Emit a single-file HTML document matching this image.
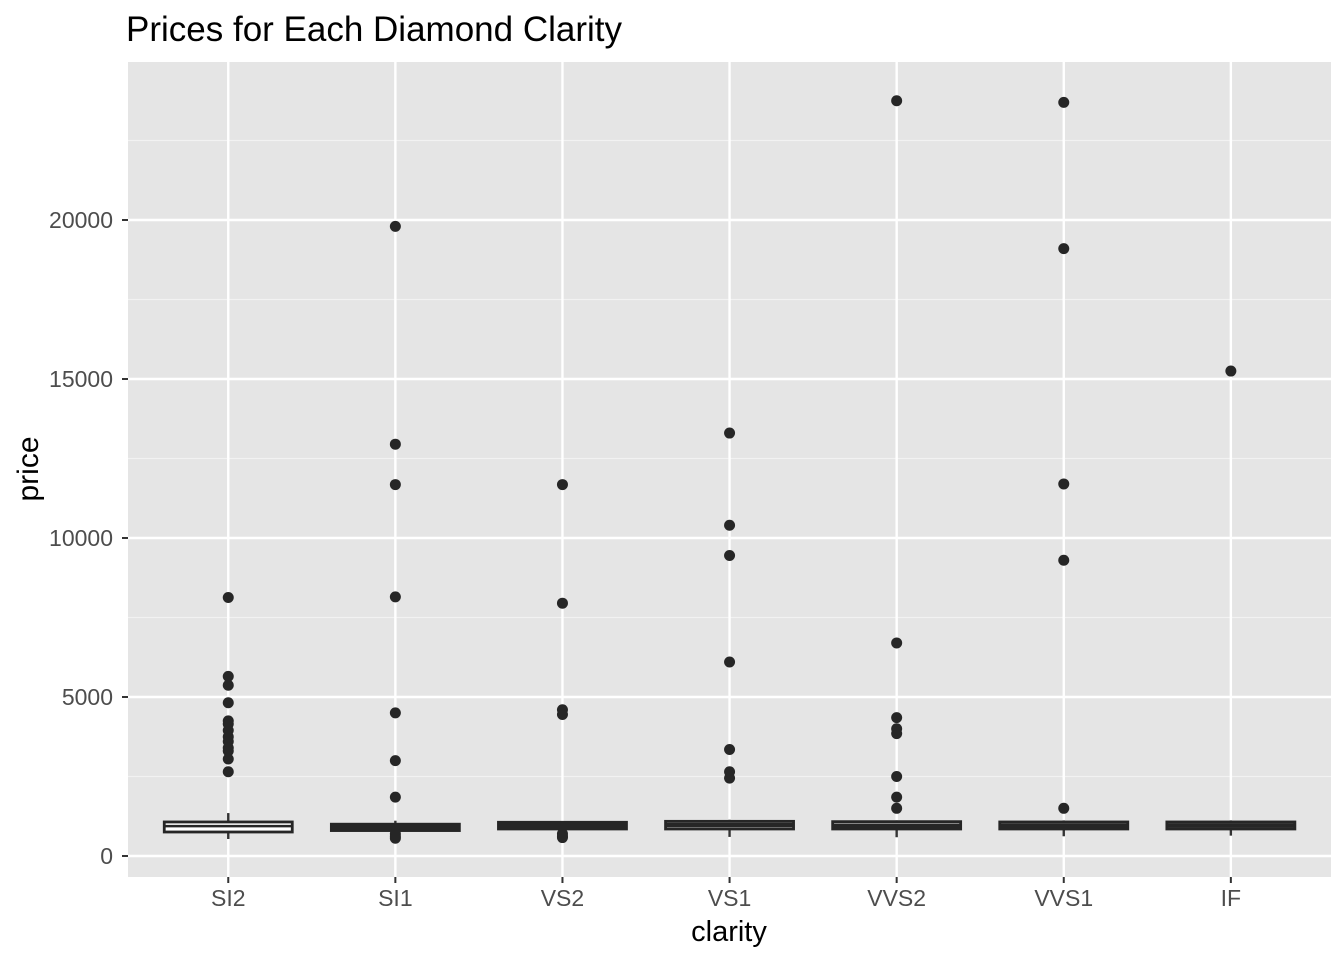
<!DOCTYPE html>
<html><head><meta charset="utf-8"><style>
html,body{margin:0;padding:0;background:#fff;}
svg text{font-family:"Liberation Sans",Arial,sans-serif;}
</style></head><body>
<svg id="chart" width="1344" height="960" xmlns="http://www.w3.org/2000/svg">
<text x="126" y="41" font-size="35" fill="#000">Prices for Each Diamond Clarity</text>
<rect x="128" y="62" width="1203" height="815" fill="#e5e5e5"/>
<g id="grid"></g><g id="marks"></g><g id="axes"></g>
<text x="729" y="941" font-size="29" text-anchor="middle" fill="#000">clarity</text>
<text transform="translate(38,469) rotate(-90)" font-size="30" text-anchor="middle" fill="#000">price</text>
</svg>
<script>
const categories=["SI2","SI1","VS2","VS1","VVS2","VVS1","IF"];
const whiskerLow=[535,500,800,600,590,620,640];
const q1=[755,800,850,850,850,850,850];
const median=[940,900,950,975,950,950,960];
const q3=[1070,1000,1060,1090,1080,1070,1070];
const whiskerHigh=[1350,1110,1100,1140,1120,1120,1120];
const outliers=[
[8130,5650,5370,4820,4250,4150,3950,3750,3600,3400,3300,3050,2650],
[19800,12950,11680,8150,4500,3000,1850,700,620,560],
[11680,7950,4600,4450,700,620,580],
[13300,10400,9450,6100,3350,2650,2450],
[23750,6700,4350,4000,3850,2500,1850,1500],
[23700,19100,11700,9300,1500],
[15250]];
const yTicks=[0,5000,10000,15000,20000];
const yMinor=[2500,7500,12500,17500,22500];
const NS="http://www.w3.org/2000/svg";
const step=167.1;
function xs(i){return 128+(0.6+i)*step;}
function ys(v){return 856-v*159/5000;}
function mk(tag,attrs,parent){const e=document.createElementNS(NS,tag);for(const k in attrs)e.setAttribute(k,attrs[k]);parent.appendChild(e);return e;}
const grid=document.getElementById('grid'),marks=document.getElementById('marks'),axes=document.getElementById('axes');
yMinor.forEach(v=>{const l=mk('line',{x1:128,x2:1331,y1:ys(v),y2:ys(v),stroke:'#f2f2f2','stroke-width':1.2},grid);

});
yTicks.forEach(v=>{const l=mk('line',{x1:128,x2:1331,y1:ys(v),y2:ys(v),stroke:'#fff','stroke-width':2.4},grid);


const t=mk('line',{x1:122,x2:128,y1:ys(v),y2:ys(v),stroke:'#333','stroke-width':2},axes);


const tx=mk('text',{x:113,y:ys(v)+8,'font-size':23,'text-anchor':'end',fill:'#4d4d4d'},axes);tx.textContent=v;

});
const bw=128;
categories.forEach((c,i)=>{const x=xs(i);
const g=mk('line',{x1:x,x2:x,y1:62,y2:877,stroke:'#fff','stroke-width':2.4},grid);


const t=mk('line',{x1:x,x2:x,y1:877,y2:883,stroke:'#333','stroke-width':2},axes);


const tx=mk('text',{x:x,y:906,'font-size':23,'text-anchor':'middle',fill:'#4d4d4d'},axes);tx.textContent=c;


const w1=mk('line',{x1:x,x2:x,y1:ys(whiskerHigh[i]),y2:ys(q3[i]),stroke:'#333','stroke-width':2.4},marks);


const w2=mk('line',{x1:x,x2:x,y1:ys(q1[i]),y2:ys(whiskerLow[i]),stroke:'#333','stroke-width':2.4},marks);


const b=mk('rect',{x:x-bw/2,y:ys(q3[i]),width:bw,height:ys(q1[i])-ys(q3[i]),fill:'#fff',stroke:'#262626','stroke-width':2.8},marks);


const m=mk('line',{x1:x-bw/2,x2:x+bw/2,y1:ys(median[i]),y2:ys(median[i]),stroke:'#262626','stroke-width':i===0?2.5:4.5},marks);


outliers[i].forEach(v=>{const p=mk('circle',{cx:x,cy:ys(v),r:5.5,fill:'#262626'},marks);

});
});
</script>
</body></html>
